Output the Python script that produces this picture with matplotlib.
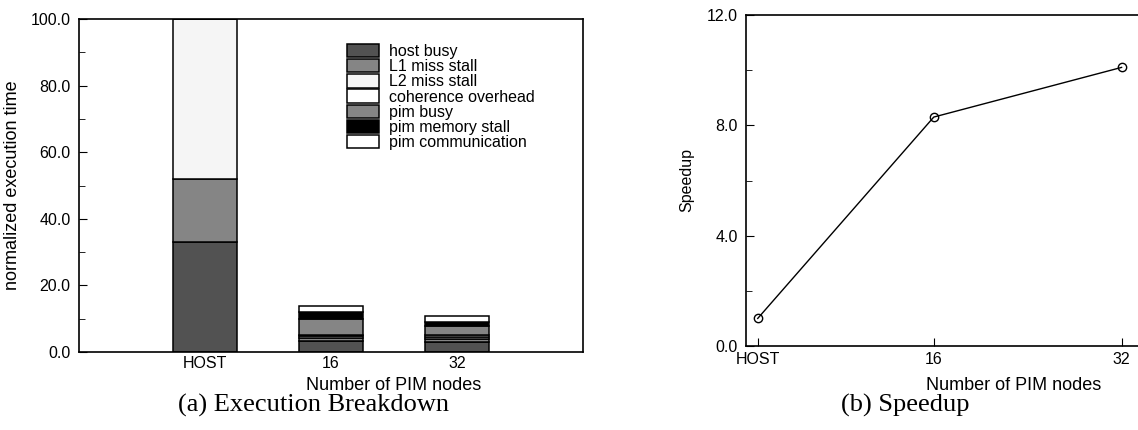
import numpy as np
import matplotlib
matplotlib.use('Agg')
import matplotlib.pyplot as plt
from matplotlib.ticker import MultipleLocator, FormatStrFormatter

plt.rcParams['font.family'] = ['Liberation Sans', 'DejaVu Sans']

# --- data ---
categories = ['HOST', '16', '32']
komponen = ['host busy', 'L1 miss stall', 'L2 miss stall', 'coherence overhead',
            'pim busy', 'pim memory stall', 'pim communication']
host_busy = [33.0, 3.2, 3.1]
l1_miss = [19.0, 0.9, 0.8]
l2_miss = [48.0, 0.6, 0.6]
coherence = [0.0, 0.5, 0.5]
pim_busy = [0.0, 4.8, 2.8]
pim_mem = [0.0, 2.1, 1.3]
pim_comm = [0.0, 1.8, 1.7]
warna = ['#525252', '#858585', '#f5f5f5', '#ffffff', '#858585', '#000000', '#ffffff']

nodes = [1, 16, 32]
node_labels = ['HOST', '16', '32']
speedup = [1.0, 8.3, 10.1]

fig = plt.figure(figsize=(11.38, 4.3), dpi=100)
serif = ['Liberation Serif', 'DejaVu Serif']

# ---------------- (a) execution breakdown ----------------
ax1 = fig.add_axes([79/1138, 1-352/430, 504/1138, 333/430])
x = np.arange(1, len(categories) + 1)
bottom = np.zeros(len(categories))
for nama, nilai, c in zip(komponen,
                          [host_busy, l1_miss, l2_miss, coherence, pim_busy, pim_mem, pim_comm],
                          warna):
    ax1.bar(x, nilai, 0.51, bottom=bottom, color=c, edgecolor='black',
            linewidth=1.1, label=nama)
    bottom += np.array(nilai)

ax1.set_xlim(0, 4)
ax1.set_ylim(0, 100)
ax1.set_xticks(x)
ax1.set_xticklabels(categories, fontsize=11.5)
ax1.tick_params(axis='x', length=0, pad=3)
ax1.yaxis.set_major_locator(MultipleLocator(20))
ax1.yaxis.set_minor_locator(MultipleLocator(10))
ax1.yaxis.set_major_formatter(FormatStrFormatter('%.1f'))
ax1.tick_params(axis='y', which='both', direction='in', labelsize=11.5, pad=6)
ax1.tick_params(axis='y', which='major', length=6)
ax1.tick_params(axis='y', which='minor', length=4)
for s in ax1.spines.values():
    s.set_linewidth(1.2)
ax1.set_ylabel('normalized execution time', fontsize=13, labelpad=7)
ax1.set_xlabel('Number of PIM nodes', fontsize=13)
ax1.xaxis.set_label_coords(0.625, -0.075)
ax1.legend(loc='upper left', bbox_to_anchor=(0.532, 0.925), frameon=False,
           fontsize=11.5, handlelength=2.0, handleheight=0.9, labelspacing=0.0,
           handletextpad=0.6, borderpad=0, borderaxespad=0)
fig.text(313/1138, 1-405/430, '(a) Execution Breakdown', fontsize=19,
         family=serif, ha='center', va='center')

# ---------------- (b) speedup ----------------
ax2 = fig.add_axes([746/1138, 1-346/430, 392/1138, 331/430])
ax2.plot(nodes, speedup, color='black', linewidth=1.0, marker='o', markersize=6,
         markerfacecolor='none', markeredgecolor='black', markeredgewidth=1.0)
ax2.set_xlim(0, 33.4)
ax2.set_ylim(0, 12)
ax2.set_xticks(nodes)
ax2.set_xticklabels(node_labels, fontsize=11.5)
ax2.yaxis.set_major_locator(MultipleLocator(4))
ax2.yaxis.set_minor_locator(MultipleLocator(2))
ax2.yaxis.set_major_formatter(FormatStrFormatter('%.1f'))
ax2.tick_params(axis='both', which='both', direction='in', labelsize=11.5)
ax2.tick_params(axis='y', which='major', length=6, pad=6)
ax2.tick_params(axis='y', which='minor', length=4)
ax2.tick_params(axis='x', length=6, pad=4)
ax2.spines['right'].set_visible(False)
for s in ax2.spines.values():
    s.set_linewidth(1.2)
ax2.set_ylabel('Speedup', fontsize=11.5, labelpad=9)
ax2.set_xlabel('Number of PIM nodes', fontsize=13)
ax2.xaxis.set_label_coords(0.683, -0.095)
fig.text(905/1138, 1-405/430, '(b) Speedup', fontsize=19,
         family=serif, ha='center', va='center')

fig.savefig('out.png', dpi=100)
